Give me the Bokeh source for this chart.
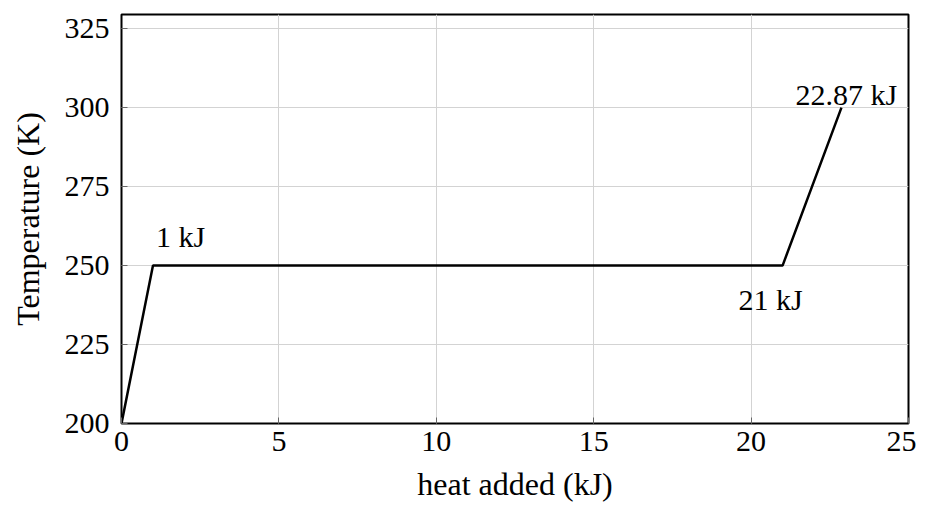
from bokeh.plotting import figure
from bokeh.models import Range1d, FixedTicker
from bokeh.embed import file_html
from bokeh.resources import INLINE
from bokeh.core.properties import value

heat = [0, 1, 21, 22.87]
temp = [200, 250, 250, 300]

x_ticks = [0, 5, 10, 15, 20, 25]
y_ticks = [200, 225, 250, 275, 300, 325]

lab1_x, lab1_y, lab1_text = [1], [250], ["1 kJ"]
lab2_x, lab2_y, lab2_text = [21], [250], ["21 kJ"]
lab3_x, lab3_y, lab3_text = [22.87], [300], ["22.87 kJ"]

FONT = "Liberation Serif"
FS = "30px"
FS_LAB = "32px"

p = figure(width=916, height=504, output_backend="svg", toolbar_location=None,
           x_range=Range1d(0, 25), y_range=Range1d(200, 329.5),
           min_border_left=121, min_border_right=8, min_border_top=14, min_border_bottom=81)
p.background_fill_color = "white"
p.border_fill_color = "white"
p.outline_line_color = "black"
p.outline_line_width = 2

xax = p.xaxis[0]
yax = p.yaxis[0]

for ax in (xax, yax):
    ax.major_label_text_font = FONT
    ax.major_label_text_font_size = FS
    ax.major_label_text_color = "black"
    ax.axis_label_text_font = FONT
    ax.axis_label_text_font_size = FS_LAB
    ax.axis_label_text_font_style = "normal"
    ax.axis_label_text_color = "black"
    ax.axis_line_color = None
    ax.major_tick_in = 6
    ax.major_tick_out = 0
    ax.major_tick_line_color = "#666666"
    ax.minor_tick_line_color = None

xax.ticker = FixedTicker(ticks=x_ticks)
yax.ticker = FixedTicker(ticks=y_ticks)
xax.axis_label = "heat added (kJ)"
yax.axis_label = "Temperature (K)"
xax.major_label_standoff = 8
yax.major_label_standoff = 12
xax.axis_label_standoff = 12
yax.axis_label_standoff = 16

p.xgrid.ticker = FixedTicker(ticks=x_ticks)
p.ygrid.ticker = FixedTicker(ticks=y_ticks)
p.grid.grid_line_color = "#d3d3d3"
p.grid.grid_line_width = 1

p.line(heat, temp, line_color="black", line_width=2.5)

p.text(lab1_x, lab1_y, text=lab1_text, text_font=value(FONT), text_font_size=FS,
       text_align="left", text_baseline="bottom", x_offset=3, y_offset=-13, text_color="black")
p.text(lab2_x, lab2_y, text=lab2_text, text_font=value(FONT), text_font_size=FS,
       text_align="right", text_baseline="top", x_offset=20, y_offset=17, text_color="black")
p.text(lab3_x, lab3_y, text=lab3_text, text_font=value(FONT), text_font_size=FS,
       text_align="center", text_baseline="bottom", x_offset=5, y_offset=3, text_color="black")

open("out.html", "w").write(file_html(p, INLINE))
